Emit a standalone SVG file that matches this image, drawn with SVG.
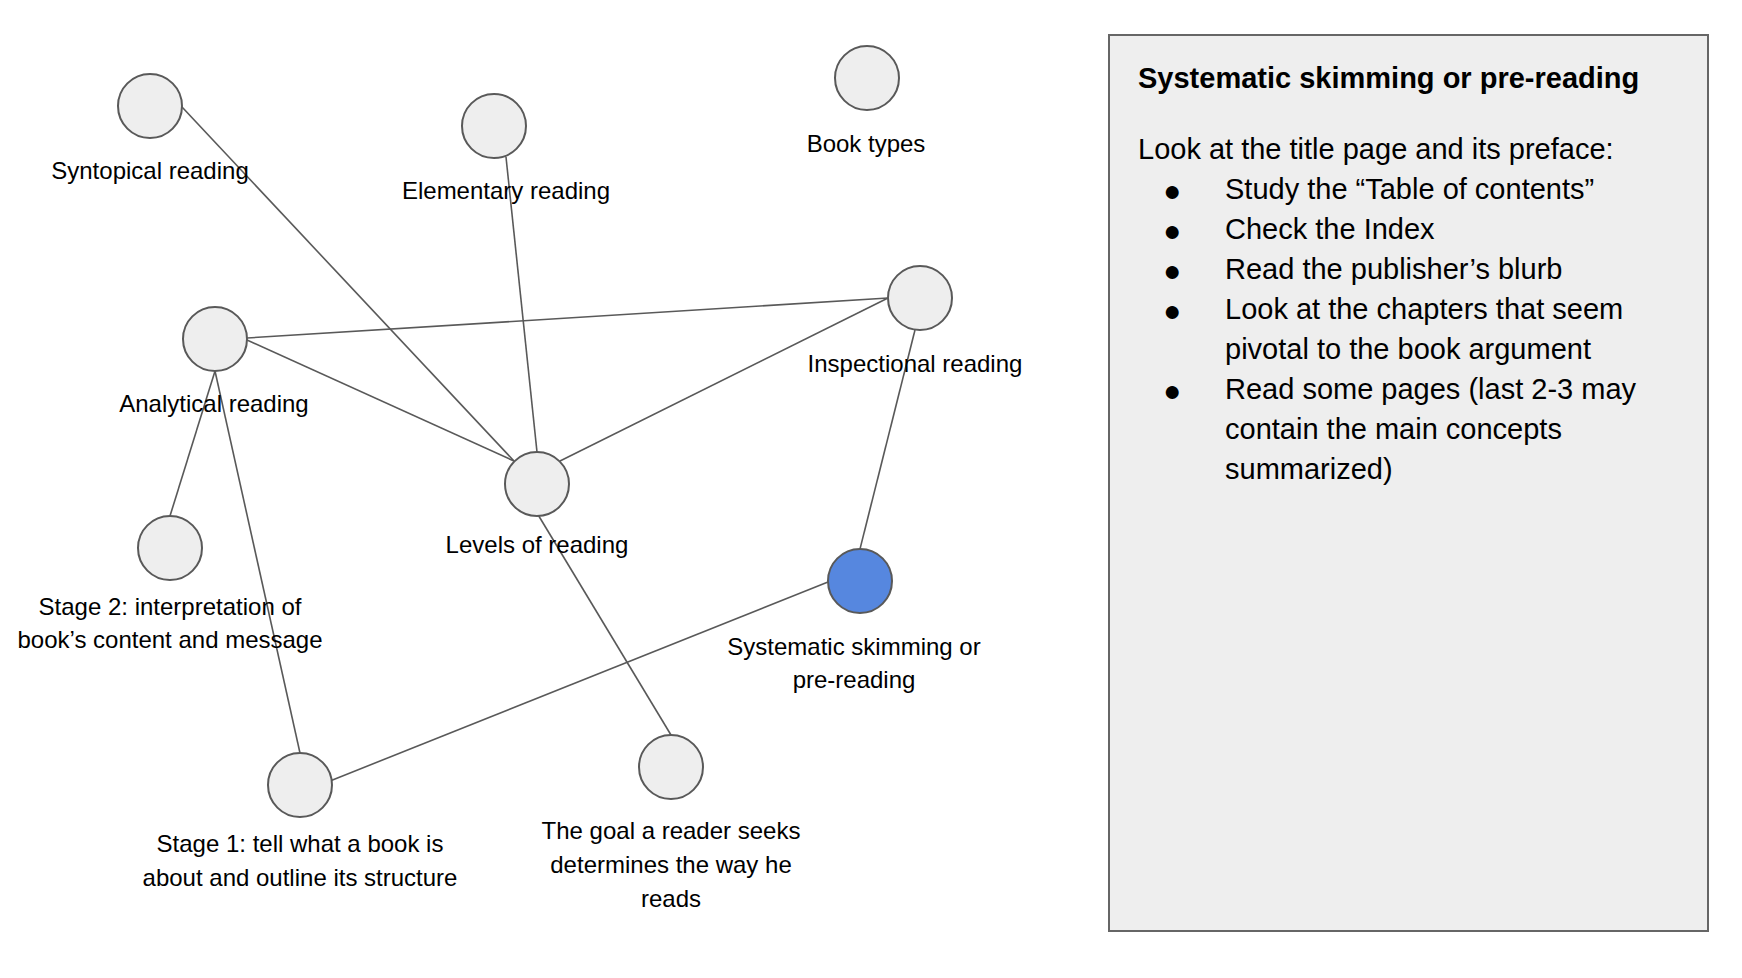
<svg xmlns="http://www.w3.org/2000/svg" width="1742" height="978" viewBox="0 0 1742 978">
<style>
.bg{fill:#ffffff}
.node{fill:#eeeeee;stroke:#595959;stroke-width:2}
.sel{fill:#5687df;stroke:#595959;stroke-width:2}
.edge{stroke:#595959;stroke-width:1.6;fill:none}
.lbl{font-family:"Liberation Sans",Arial,sans-serif;font-size:24px;fill:#000000;text-anchor:middle}
.panel{fill:#eeeeee;stroke:#666666;stroke-width:2}
.ptitle{font-family:"Liberation Sans",Arial,sans-serif;font-size:29px;font-weight:bold;fill:#000000}
.ptext{font-family:"Liberation Sans",Arial,sans-serif;font-size:29px;fill:#000000}
.bul{font-family:"Liberation Sans","DejaVu Sans",sans-serif;font-size:30px;fill:#000000;text-anchor:middle}
</style>
<rect class="bg" x="0" y="0" width="1742" height="978"/>
<g id="connectors">
<line class="edge" x1="182" y1="107" x2="514" y2="461"/>
<line class="edge" x1="506" y1="157" x2="537" y2="452"/>
<line class="edge" x1="247" y1="338" x2="888" y2="298"/>
<line class="edge" x1="247" y1="340" x2="514" y2="461"/>
<line class="edge" x1="888" y1="298" x2="560" y2="461"/>
<line class="edge" x1="915" y1="330" x2="860" y2="549"/>
<line class="edge" x1="215" y1="371" x2="170" y2="516"/>
<line class="edge" x1="215" y1="371" x2="300" y2="753"/>
<line class="edge" x1="537" y1="513" x2="671" y2="735"/>
<line class="edge" x1="330" y1="781" x2="828" y2="582"/>
</g>
<g id="syntopical">
<circle class="node" cx="150" cy="106" r="32"/>
<text class="lbl" x="150" y="179">Syntopical reading</text>
</g>
<g id="elementary">
<circle class="node" cx="494" cy="126" r="32"/>
<text class="lbl" x="506" y="199">Elementary reading</text>
</g>
<g id="booktypes">
<circle class="node" cx="867" cy="78" r="32"/>
<text class="lbl" x="866" y="152">Book types</text>
</g>
<g id="inspectional">
<circle class="node" cx="920" cy="298" r="32"/>
<text class="lbl" x="915" y="372">Inspectional reading</text>
</g>
<g id="analytical">
<circle class="node" cx="215" cy="339" r="32"/>
<text class="lbl" x="214" y="412">Analytical reading</text>
</g>
<g id="levels">
<circle class="node" cx="537" cy="484" r="32"/>
<text class="lbl" x="537" y="553">Levels of reading</text>
</g>
<g id="stage2">
<circle class="node" cx="170" cy="548" r="32"/>
<text class="lbl" x="170" y="615">Stage 2: interpretation of</text>
<text class="lbl" x="170" y="648">book’s content and message</text>
</g>
<g id="skimming">
<circle class="sel" cx="860" cy="581" r="32"/>
<text class="lbl" x="854" y="655">Systematic skimming or</text>
<text class="lbl" x="854" y="688">pre-reading</text>
</g>
<g id="stage1">
<circle class="node" cx="300" cy="785" r="32"/>
<text class="lbl" x="300" y="852">Stage 1: tell what a book is</text>
<text class="lbl" x="300" y="886">about and outline its structure</text>
</g>
<g id="goal">
<circle class="node" cx="671" cy="767" r="32"/>
<text class="lbl" x="671" y="839">The goal a reader seeks</text>
<text class="lbl" x="671" y="873">determines the way he</text>
<text class="lbl" x="671" y="907">reads</text>
</g>
<g id="panel">
<rect class="panel" x="1109" y="35" width="599" height="896"/>
<text class="ptitle" x="1138" y="88">Systematic skimming or pre-reading</text>
<text class="ptext" x="1138" y="159">Look at the title page and its preface:</text>
<text class="bul" x="1172" y="201">●</text>
<text class="ptext" x="1225" y="199">Study the “Table of contents”</text>
<text class="bul" x="1172" y="241">●</text>
<text class="ptext" x="1225" y="239">Check the Index</text>
<text class="bul" x="1172" y="281">●</text>
<text class="ptext" x="1225" y="279">Read the publisher’s blurb</text>
<text class="bul" x="1172" y="321">●</text>
<text class="ptext" x="1225" y="319">Look at the chapters that seem</text>
<text class="ptext" x="1225" y="359">pivotal to the book argument</text>
<text class="bul" x="1172" y="401">●</text>
<text class="ptext" x="1225" y="399">Read some pages (last 2-3 may</text>
<text class="ptext" x="1225" y="439">contain the main concepts</text>
<text class="ptext" x="1225" y="479">summarized)</text>
</g>
</svg>
